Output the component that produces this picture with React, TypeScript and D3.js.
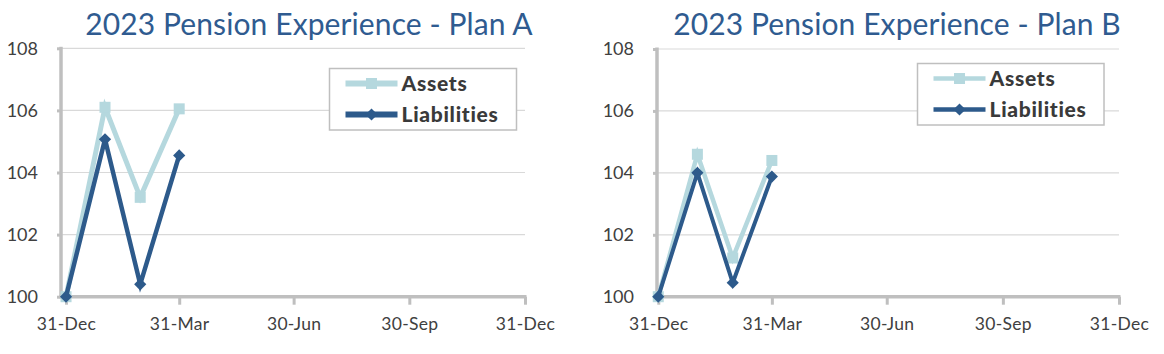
import React, { useEffect, useRef } from "react";
import * as d3 from "d3";

// data
const pointDates = ["2022-12-31", "2023-01-31", "2023-02-28", "2023-03-31"];
const planAAssets = [100, 106.1, 103.2, 106.05];
const planALiabilities = [100, 105.07, 100.4, 104.55];
const planBAssets = [100, 104.6, 101.25, 104.4];
const planBLiabilities = [100, 104.0, 100.45, 103.88];

const xTickDates = ["2022-12-31", "2023-03-31", "2023-06-30", "2023-09-30", "2023-12-31"];
const xTickLabels = ["31-Dec", "31-Mar", "30-Jun", "30-Sep", "31-Dec"];
const yTicks = [100, 102, 104, 106, 108];
const seriesNames = ["Assets", "Liabilities"];

const FONT = "Lato, 'Open Sans', sans-serif";
const LIGHT = "#b5d8de";
const DARK = "#2d5a8b";
const AXIS = "#bfbfbf";
const GRID = "#d9d9d9";

const parse = d3.utcParse("%Y-%m-%d");

function drawChart(svg, cfg) {
  const x = d3.scaleUtc().domain([parse(cfg.start), parse("2023-12-31")]).range([cfg.left, cfg.right]);
  const y = d3.scaleLinear().domain([100, 108]).range([cfg.bottom, cfg.top]);
  const g = svg.append("g");

  // title
  g.append("text").attr("x", cfg.titleX).attr("y", 35)
    .attr("text-anchor", "middle").attr("font-family", FONT).attr("font-size", 30)
    .attr("letter-spacing", 0.1).attr("fill", "#2f5b90").text(cfg.title);

  // gridlines
  g.selectAll("line.grid").data(yTicks.slice(1)).join("line")
    .attr("x1", cfg.left).attr("x2", cfg.right)
    .attr("y1", (d) => y(d)).attr("y2", (d) => y(d))
    .attr("stroke", GRID).attr("stroke-width", 1.2);

  // y axis
  const yAxis = g.append("g").attr("transform", `translate(${cfg.left},0)`)
    .call(d3.axisLeft(y).tickValues(yTicks).tickFormat(d3.format("d")).tickSize(4).tickPadding(19));
  yAxis.select(".domain").remove();
  yAxis.selectAll("line").attr("stroke", AXIS).attr("stroke-width", 3);
  yAxis.selectAll("text").attr("font-family", FONT).attr("font-size", 18).attr("fill", "#404040");
  g.append("line").attr("x1", cfg.left).attr("x2", cfg.left).attr("y1", cfg.top - 1.5).attr("y2", cfg.bottom)
    .attr("stroke", AXIS).attr("stroke-width", 3.5);

  // x axis
  const xAxis = g.append("g").attr("transform", `translate(0,${cfg.bottom})`)
    .call(d3.axisBottom(x).tickValues(xTickDates.map(parse)).tickSize(8)
      .tickFormat((d, i) => xTickLabels[i]).tickPadding(13));
  xAxis.select(".domain").remove();
  xAxis.selectAll("line").attr("stroke", AXIS).attr("stroke-width", 3);
  xAxis.selectAll("text").attr("font-family", FONT).attr("font-size", 17.5).attr("fill", "#404040")
    .attr("letter-spacing", 0.3);
  g.append("line").attr("x1", cfg.left - 1.5).attr("x2", cfg.right + 1.5).attr("y1", cfg.bottom).attr("y2", cfg.bottom)
    .attr("stroke", AXIS).attr("stroke-width", 3.5);

  const line = d3.line().x((d) => x(parse(d.date))).y((d) => y(d.v));
  const assets = pointDates.map((d, i) => ({ date: d, v: cfg.assets[i] }));
  const liabs = pointDates.map((d, i) => ({ date: d, v: cfg.liabilities[i] }));

  g.append("path").datum(assets).attr("d", line).attr("fill", "none")
    .attr("stroke", LIGHT).attr("stroke-width", cfg.lw + 0.5).attr("stroke-linejoin", "miter");
  g.selectAll("rect.am").data(assets).join("rect").attr("class", "am")
    .attr("x", (d) => x(parse(d.date)) - 5.5).attr("y", (d) => y(d.v) - 5.5)
    .attr("width", 11).attr("height", 11).attr("fill", LIGHT);

  g.append("path").datum(liabs).attr("d", line).attr("fill", "none")
    .attr("stroke", DARK).attr("stroke-width", cfg.lw).attr("stroke-linejoin", "miter");
  const diamond = d3.symbol().type(d3.symbolDiamond2).size(95);
  g.selectAll("path.lm").data(liabs).join("path").attr("class", "lm")
    .attr("transform", (d) => `translate(${x(parse(d.date))},${y(d.v)})`)
    .attr("d", diamond).attr("fill", DARK);

  // legend
  const lg = cfg.legend;
  g.append("rect").attr("x", lg.x).attr("y", lg.y).attr("width", lg.w).attr("height", lg.h)
    .attr("fill", "white").attr("stroke", AXIS).attr("stroke-width", 1.5);
  seriesNames.forEach((name, i) => {
    const cy = lg.y + 15 + i * 31;
    const col = i === 0 ? LIGHT : DARK;
    g.append("line").attr("x1", lg.x + 16).attr("x2", lg.x + 68).attr("y1", cy).attr("y2", cy)
      .attr("stroke", col).attr("stroke-width", lg.lw);
    if (i === 0) {
      g.append("rect").attr("x", lg.x + 42 - 5.5).attr("y", cy - 5.5).attr("width", 11).attr("height", 11).attr("fill", col);
    } else {
      g.append("path").attr("transform", `translate(${lg.x + 42},${cy})`).attr("d", diamond).attr("fill", col);
    }
    g.append("text").attr("x", lg.x + 72).attr("y", cy + 7)
      .attr("font-family", FONT).attr("font-size", 21).attr("font-weight", 900).attr("letter-spacing", 0.7)
      .attr("fill", "#3a3a3a").text(name);
  });
}

export default function App() {
  const ref = useRef(null);

  useEffect(() => {
    const svg = d3.select(ref.current);
    svg.selectAll("*").remove();
    drawChart(svg, {
      title: "2023 Pension Experience - Plan A", titleX: 309,
      start: "2022-12-27", left: 61, right: 525, top: 48.3, bottom: 296.7,
      assets: planAAssets, liabilities: planALiabilities, lw: 4.5,
      legend: { x: 329.5, y: 68.5, w: 187, h: 61.5, lw: 6 },
    });
    drawChart(svg, {
      title: "2023 Pension Experience - Plan B", titleX: 897,
      start: "2022-12-30", left: 657, right: 1119, top: 49, bottom: 296.7,
      assets: planBAssets, liabilities: planBLiabilities, lw: 4,
      legend: { x: 917.5, y: 63.5, w: 186.5, h: 61.5, lw: 4.5 },
    });
  }, []);

  return (
    <svg ref={ref} width={1164} height={354}
      style={{ position: "absolute", left: 0, top: 0, background: "white" }} />
  );
}
